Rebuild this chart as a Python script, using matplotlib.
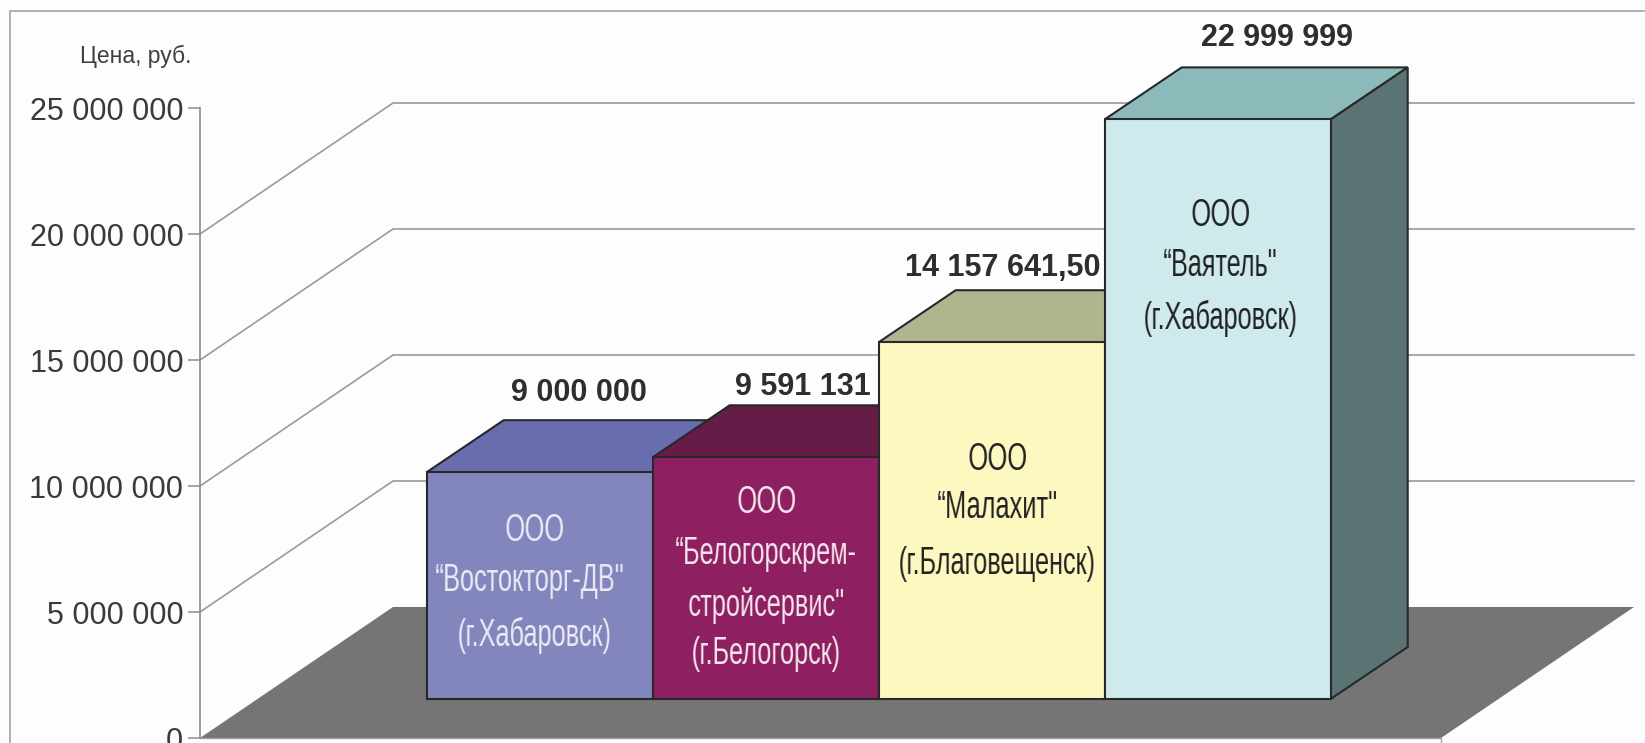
import matplotlib
matplotlib.use("Agg")
import numpy as np
import matplotlib.pyplot as plt
from matplotlib.patches import Polygon
from matplotlib.transforms import Bbox

companies = ['ООО\n“Востокторг-ДВ"\n(г.Хабаровск)',
             'ООО\n“Белогорскрем-\nстройсервис"\n(г.Белогорск)',
             'ООО\n“Малахит"\n(г.Благовещенск)',
             'ООО\n“Ваятель"\n(г.Хабаровск)']
prices = [9000000, 9591131, 14157641.5, 22999999]
price_labels = ['9 000 000', '9 591 131', '14 157 641,50', '22 999 999']
tick_values = [0, 5000000, 10000000, 15000000, 20000000, 25000000]
tick_labels = ['0', '5 000 000', '10 000 000', '15 000 000', '20 000 000', '25 000 000']
y_title = 'Цена, руб.'

front_colors = ['#8385bd', '#8e1f60', '#fdf7c0', '#cfeaec']
top_colors = ['#696daf', '#651c47', '#b1b58f', '#8cb9ba']
side_colors = ['#5a5c90', '#5a1a40', '#8f9270', '#5c7373']
text_colors = ['#eceaf6', '#f6e6ee', '#222222', '#222222']

W, H = 1645, 743
PY = (738 - 108) / 25e6          # pixels per rouble
def X(p): return (p - 539.7) / 226
def V(p): return (738 - p) / PY  # pixel row -> value

sans = 'Liberation Sans'
SQUEEZE = 0.65

def condense(img, dpi):
    """Narrow a rendered text horizontally about its centre."""
    h, w, _ = img.shape
    nw = max(1, int(round(w * SQUEEZE)))
    prem = img.astype(float).copy()
    prem[..., :3] *= prem[..., 3:]
    c = np.concatenate([np.zeros((h, 1, 4)), np.cumsum(prem, axis=1)], axis=1)
    e = np.linspace(0, w, nw + 1)
    i = np.minimum(e.astype(int), w - 1)
    f = (e - i)[None, :, None]
    ce = c[:, i] * (1 - f) + c[:, i + 1] * f
    out = (ce[:, 1:] - ce[:, :-1]) / (w / nw)
    a = out[..., 3:]
    out[..., :3] = np.where(a > 0, out[..., :3] / np.maximum(a, 1e-6), 0)
    return np.clip(out, 0, 1), (w - nw) // 2, 0

def narrow_extent(txt):
    """Report the condensed width as the text's extent."""
    orig = txt.get_window_extent
    def ext(renderer=None, dpi=None):
        bb = orig(renderer, dpi)
        cx, hw = (bb.x0 + bb.x1) / 2, bb.width * SQUEEZE / 2
        return Bbox.from_extents(cx - hw, bb.y0, cx + hw, bb.y1)
    txt.get_window_extent = ext

fig = plt.figure(figsize=(W / 100, H / 100), dpi=100, facecolor='#fdfdfd')
ax = fig.add_axes([0, 0, 1, 1], facecolor='none')
ax.set_xlim(X(0), X(W))
ax.set_ylim(V(H), V(0))

# outer frame
fig.add_artist(plt.Line2D([10 / W, 10 / W, 1], [0, 1 - 11 / H, 1 - 11 / H],
                          color='#a9a9a9', lw=1.3))

# value axis
for s in ('top', 'right', 'bottom'):
    ax.spines[s].set_visible(False)
ax.spines['left'].set_position(('data', X(200)))
ax.spines['left'].set_bounds(0, 25e6)
ax.spines['left'].set_color('#8c8c8c')
ax.spines['left'].set_linewidth(1.2)
ax.set_xticks([])
ax.set_yticks(tick_values, tick_labels)
ax.tick_params(axis='y', direction='out', length=8.6, width=1.1, color='#8c8c8c',
               pad=3.4, labelsize=22, labelcolor='#3a3a3a')
for t in ax.get_yticklabels():
    t.set_fontfamily(sans)
ax.text(X(136), V(56), y_title, fontsize=16.5, family=sans, color='#3f3f3f',
        ha='center', va='center')

# wall grid lines
wall_dx = X(393) - X(200)
wall_dy = 131 / PY
x_end = X(1634)
for v in tick_values[1:-1]:
    ax.plot([X(200), X(200) + wall_dx, x_end], [v, v + wall_dy, v + wall_dy],
            color='#9a9a9a', lw=1.2, zorder=1, solid_joinstyle='miter')

# floor
ax.add_patch(Polygon([(X(200), 0), (X(200) + wall_dx, wall_dy), (x_end, wall_dy),
                      (X(1441), 0)], closed=True, fc='#757575', ec='none', zorder=2))
ax.plot([X(200), X(1441), X(1441)], [0, 0, V(H)], color='#a0a0a0', lw=1.0, zorder=2)

# bars
bar_w = 1.0
base = V(699)
dx = 77 / 226
dy = 52 / PY
edge = dict(ec='#26282a', lw=1.5, joinstyle='miter')
label_dx = [39, 37, 11, 59]
label_dy = [79.5, 70.5, 74.5, 81.5]
text_dx = [[-5, -10, -5], [1, 1, 1, 1], [6, 6, 6], [3, 3, 3]]
text_rows = [[531, 581, 635], [503, 554, 605, 654], [460, 508, 564], [216, 266, 318]]
for i, (val, name) in enumerate(zip(prices, companies)):
    l, r, b, t = i - bar_w / 2, i + bar_w / 2, base, base + val
    z = 3 + i
    ax.add_patch(Polygon([(l, t), (l + dx, t + dy), (r + dx, t + dy), (r, t)],
                         fc=top_colors[i], zorder=z, **edge))
    ax.add_patch(Polygon([(r, b), (r + dx, b + dy), (r + dx, t + dy), (r, t)],
                         fc=side_colors[i], zorder=z, **edge))
    ax.add_patch(Polygon([(l, b), (r, b), (r, t), (l, t)],
                         fc=front_colors[i], zorder=z, **edge))
    ax.annotate(price_labels[i], xy=(i, t),
                xytext=(label_dx[i] * .72, label_dy[i] * .72), textcoords='offset points',
                ha='center', va='center', fontsize=22, fontweight='bold',
                family=sans, color='#2e2e2e', zorder=10)
    for line, row, off in zip(name.split('\n'), text_rows[i], text_dx[i]):
        txt = ax.text(i + off / 226, V(row), line, ha='center', va='center',
                      fontsize=28, family=sans, color=text_colors[i], zorder=10)
        txt.set_agg_filter(condense)
        narrow_extent(txt)

fig.savefig('out.png', dpi=100, facecolor=fig.get_facecolor())
